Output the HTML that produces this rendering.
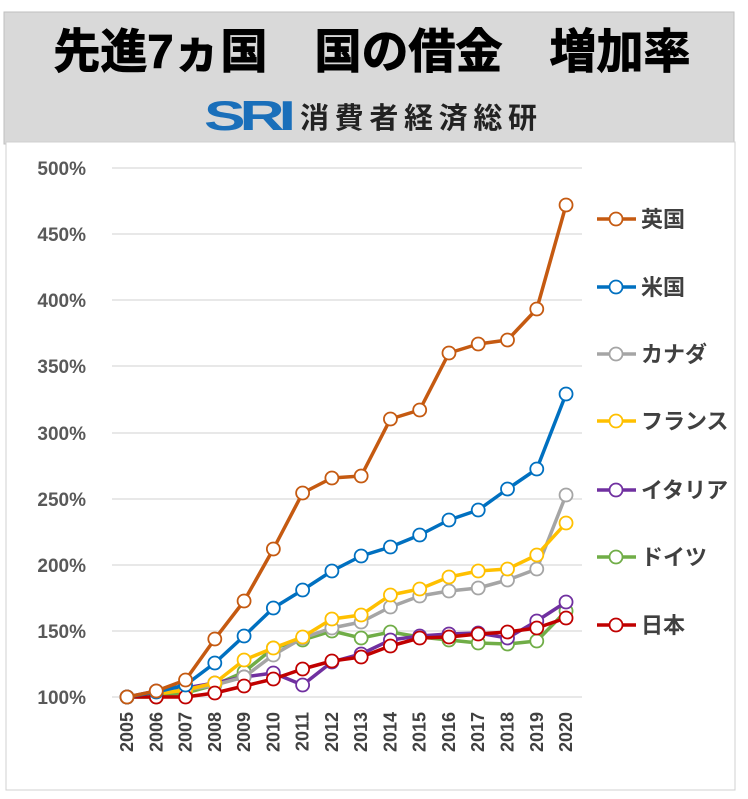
<!DOCTYPE html>
<html><head><meta charset="utf-8"><style>
body{margin:0;width:748px;height:794px;background:#fff;overflow:hidden;font-family:"Liberation Sans","Noto Sans CJK JP",sans-serif}
</style></head><body>
<svg width="748" height="794" xmlns="http://www.w3.org/2000/svg" font-family="Liberation Sans, Noto Sans CJK JP, sans-serif">
<rect x="4" y="12" width="730" height="132" fill="#d9d9d9" stroke="#bfbfbf"/>
<rect x="6" y="142" width="729" height="648" fill="#fff" stroke="#d0d0d0"/>
<text x="372" y="68" text-anchor="middle" font-size="47" font-weight="bold" fill="#000" stroke="#000" stroke-width="1">先進7ヵ国　国の借金　増加率</text>
<text x="204" y="130" font-size="42" font-weight="bold" fill="#1a6fba" letter-spacing="-4" textLength="86" lengthAdjust="spacingAndGlyphs">SRI</text>
<text x="300" y="128" font-size="29" font-weight="bold" fill="#222" letter-spacing="3" textLength="240">消費者経済総研</text>
<g stroke="#d9d9d9" stroke-width="1.3">
<line x1="112" x2="582" y1="168" y2="168"/><line x1="112" x2="582" y1="234" y2="234"/>
<line x1="112" x2="582" y1="300" y2="300"/><line x1="112" x2="582" y1="366" y2="366"/>
<line x1="112" x2="582" y1="433" y2="433"/><line x1="112" x2="582" y1="499" y2="499"/>
<line x1="112" x2="582" y1="565" y2="565"/><line x1="112" x2="582" y1="631" y2="631"/>
<line x1="112" x2="582" y1="697" y2="697"/>
</g>
<g font-size="19" font-weight="bold" fill="#595959" text-anchor="end">
<text x="86" y="175">500%</text><text x="86" y="241">450%</text><text x="86" y="307">400%</text>
<text x="86" y="373">350%</text><text x="86" y="440">300%</text><text x="86" y="506">250%</text>
<text x="86" y="572">200%</text><text x="86" y="638">150%</text><text x="86" y="704">100%</text>
</g>
<g font-size="18" font-weight="bold" fill="#404040" text-anchor="end" id="xl"></g>
<g id="series"></g>
<g id="legend" font-size="22" font-weight="bold" fill="#404040"></g>
</svg>
<script>
const xs=i=>127+i*29.27;
const xl=document.getElementById('xl');
let h='';
for(let i=0;i<16;i++){const x=xs(i)+6;h+=`<text transform="translate(${x},712) rotate(-90)">${2005+i}</text>`}
xl.innerHTML=h;
const S=[
['ドイツ','#70ad47',[697,697,693,685,672,648,640,631,638,632,637,640,643,644,641,611]],
['イタリア','#7030a0',[697,691,688,683,677,673,685,662,654,640,636,634,633,638,621,602]],
['カナダ','#a5a5a5',[697,693,690,685,677,655,638,628,622,607,596,591,588,580,569,495]],
['フランス','#ffc000',[697,694,690,683,660,648,637,619,615,595,589,577,571,569,555,523]],
['日本','#c00000',[697,697,697,693,686,679,669,661,657,646,638,637,634,632,628,618]],
['米国','#0070c0',[697,692,685,663,636,608,590,571,556,547,535,520,510,489,469,394]],
['英国','#c55a11',[697,691,680,639,601,549,493,478,476,419,410,353,344,340,309,205]]
];
let g='';
for(const [n,c,ys] of S){
g+=`<polyline fill="none" stroke="${c}" stroke-width="3.5" stroke-linejoin="round" points="${ys.map((y,i)=>xs(i)+','+y).join(' ')}"/>`;
ys.forEach((y,i)=>g+=`<circle cx="${xs(i)}" cy="${y}" r="6.5" fill="#fff" stroke="${c}" stroke-width="1.8"/>`);
}
document.getElementById('series').innerHTML=g;
const L=[['英国','#c55a11',219],['米国','#0070c0',287],['カナダ','#a5a5a5',354],['フランス','#ffc000',421],['イタリア','#7030a0',490],['ドイツ','#70ad47',557],['日本','#c00000',625]];
let l='';
for(const [n,c,y] of L){l+=`<line x1="597" x2="636" y1="${y}" y2="${y}" stroke="${c}" stroke-width="3.5"/><circle cx="616" cy="${y}" r="6.5" fill="#fff" stroke="${c}" stroke-width="1.8"/><text x="641" y="${y+8}">${n}</text>`}
document.getElementById('legend').innerHTML=l;
</script>
</body></html>
